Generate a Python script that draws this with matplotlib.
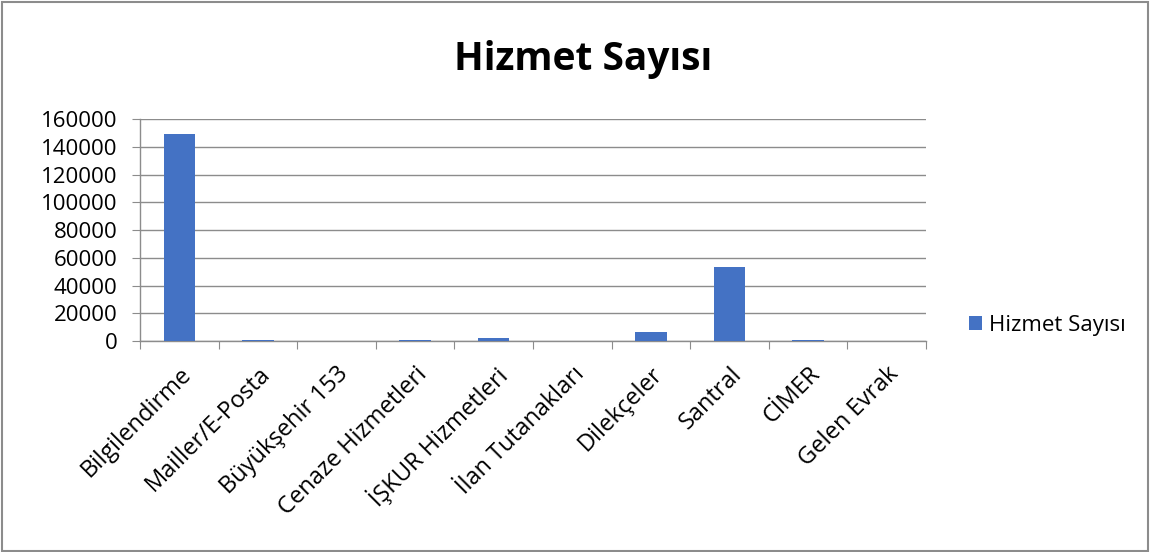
import numpy as np
import matplotlib.pyplot as plt
import matplotlib.transforms as mtransforms
from matplotlib.patches import Rectangle

plt.rcParams['font.family'] = ['Open Sans', 'DejaVu Sans']

categories = ['Bilgilendirme', 'Mailler/E-Posta', 'Büyükşehir 153', 'Cenaze Hizmetleri',
              'İŞKUR Hizmetleri', 'İlan Tutanakları', 'Dilekçeler', 'Santral', 'CİMER', 'Gelen Evrak']
values = [149000, 600, 400, 500, 2200, 0, 6300, 53300, 700, 0]
yticks = [0, 20000, 40000, 60000, 80000, 100000, 120000, 140000, 160000]

bar_color = '#4472C4'
grid_color = '#8C8C8C'

fig = plt.figure(figsize=(11.5, 5.52), dpi=100)
fig.patches.append(Rectangle((0.002, 0.002), 0.996, 0.994, transform=fig.transFigure,
                             fill=False, edgecolor='#8C8C8C', linewidth=1.5))
ax = fig.add_axes([0.1217, 0.382, 0.6835, 0.402])

x = np.arange(len(categories))
ax.bar(x, values, width=0.4, color=bar_color, label='Hizmet Sayısı', zorder=3)

ax.set_xlim(-0.5, len(categories) - 0.5)
ax.set_ylim(0, 160000)
ax.set_yticks(yticks)
ax.set_yticklabels([str(v) for v in yticks], fontsize=16)
ax.yaxis.grid(True, color=grid_color, linewidth=1)
ax.set_axisbelow(True)

ax.set_xticks(np.arange(len(categories) + 1) - 0.5)
ax.set_xticklabels([])
ax.set_xticks(x, minor=True)
ax.set_xticklabels(categories, minor=True, rotation=45, ha='right', rotation_mode='anchor',
                   fontsize=17)
ax.tick_params(axis='x', which='minor', length=0, pad=15)
ax.tick_params(axis='x', which='major', length=6, color=grid_color, direction='out')
ax.tick_params(axis='y', length=6, color=grid_color, direction='out', pad=10)

shift = mtransforms.ScaledTranslation(0, 0, fig.dpi_scale_trans)
for lbl in ax.get_xticklabels(minor=True):
    lbl.set_transform(lbl.get_transform() + shift)

for s in ['top', 'right']:
    ax.spines[s].set_visible(False)
for s in ['left', 'bottom']:
    ax.spines[s].set_color(grid_color)
    ax.spines[s].set_linewidth(1)

fig.text(0.507, 0.893, 'Hizmet Sayısı', ha='center', va='center', fontsize=28, fontweight='bold')

fig.legend(loc='center left', bbox_to_anchor=(0.825, 0.411), frameon=False, fontsize=16,
           handlelength=0.6, handleheight=0.6, handletextpad=0.3)

fig.savefig('out.png', dpi=100)
